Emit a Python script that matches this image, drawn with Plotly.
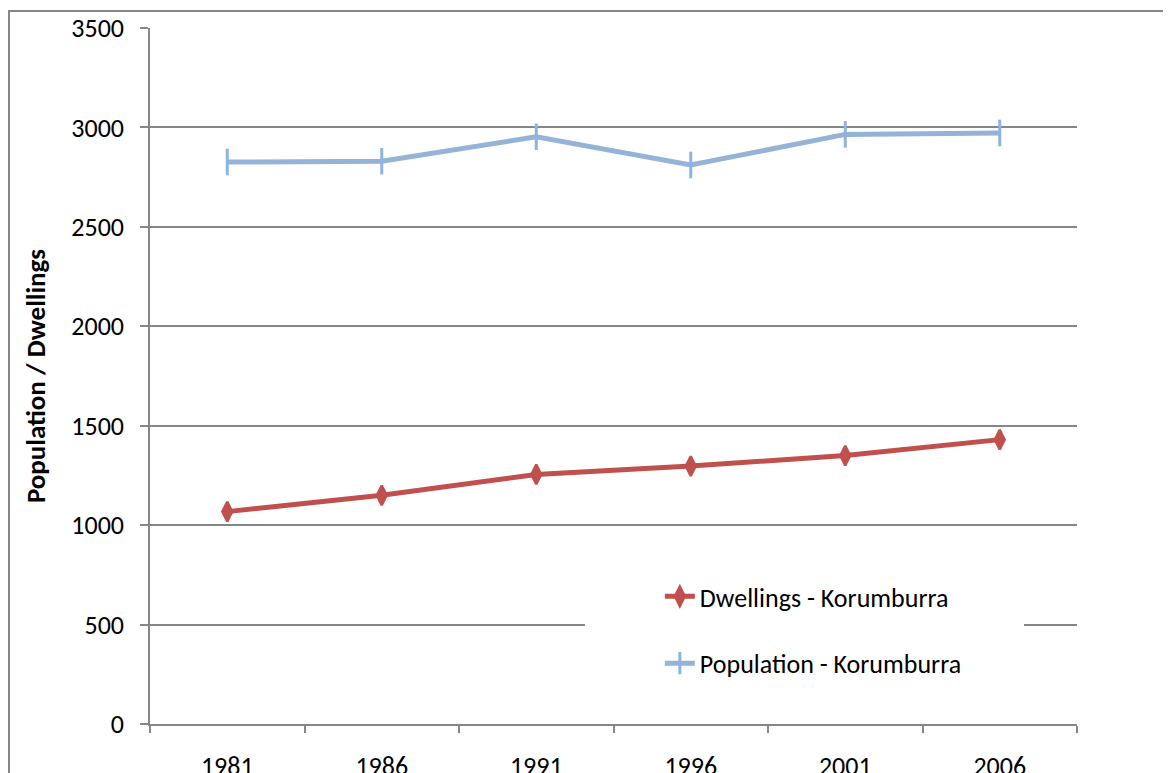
import plotly.graph_objects as go

years = ["1981", "1986", "1991", "1996", "2001", "2006"]
dwellings = [1068, 1150, 1255, 1297, 1350, 1430]
population = [2826, 2830, 2953, 2811, 2965, 2972]

FONT = "Carlito, Lato, 'Open Sans', sans-serif"
GRID = "#868686"

# page body has an 8px default margin; compensate so the plot area sits at x 150..1077, y 28..724
L, T = 142, 20
PW, PH = 927, 696

fig = go.Figure()
fig.add_trace(go.Scatter(
    x=years, y=dwellings, name="Dwellings - Korumburra", mode="lines+markers",
    line=dict(color="#C0504D", width=5),
    marker=dict(symbol="diamond-tall", size=14, color="#C0504D",
                line=dict(color="#C0504D", width=2.5)),
    legendgroup="a",
))
fig.add_trace(go.Scatter(
    x=years, y=population, name="Population - Korumburra", mode="lines+markers",
    line=dict(color="#95B3D7", width=5),
    marker=dict(symbol="line-ns", size=19, line=dict(color="#8DB3E2", width=3)),
    legendgroup="b",
))

fig.update_layout(
    width=1171, height=773,
    margin=dict(l=L, r=1171 - L - PW, t=T, b=773 - T - PH, autoexpand=False),
    paper_bgcolor="white", plot_bgcolor="white",
    font=dict(family=FONT, size=26, color="black"),
    showlegend=True,
    legend=dict(x=0.550, y=0.217, xanchor="left", yanchor="top",
                bgcolor="rgba(0,0,0,0)", font=dict(size=26, family=FONT),
                tracegroupgap=30, itemwidth=30),
    shapes=[
        dict(type="rect", xref="paper", yref="paper",
             x0=(585 - 150) / PW, x1=(1024 - 150) / PW,
             y0=(724 - 692) / PH, y1=(724 - 570) / PH,
             fillcolor="white", line=dict(width=0), layer="above"),
        dict(type="rect", xref="paper", yref="paper",
             x0=(9 - 150) / PW, x1=1.2,
             y0=-0.2, y1=1 + (28 - 11) / PH,
             line=dict(color=GRID, width=2), fillcolor="rgba(0,0,0,0)", layer="above"),
    ],
)
fig.update_xaxes(
    type="category", range=[-0.5, 5.5], showgrid=False, showline=True,
    linecolor=GRID, linewidth=1.5, ticks="outside", tickson="boundaries",
    ticklen=7, tickcolor=GRID, tickwidth=1.5, ticklabelstandoff=18,
    tickfont=dict(size=26), automargin=False,
)
fig.update_yaxes(
    range=[0, 3500], dtick=500, showgrid=True, gridcolor=GRID, gridwidth=1.5,
    showline=True, linecolor=GRID, linewidth=1.5, zeroline=False,
    ticks="outside", ticklen=8, tickcolor=GRID, tickwidth=1.5, ticklabelstandoff=11,
    tickfont=dict(size=26), automargin=False,
    title=dict(text="<b>Population / Dwellings</b>", font=dict(size=27), standoff=18),
)

fig.write_html("out.html")
